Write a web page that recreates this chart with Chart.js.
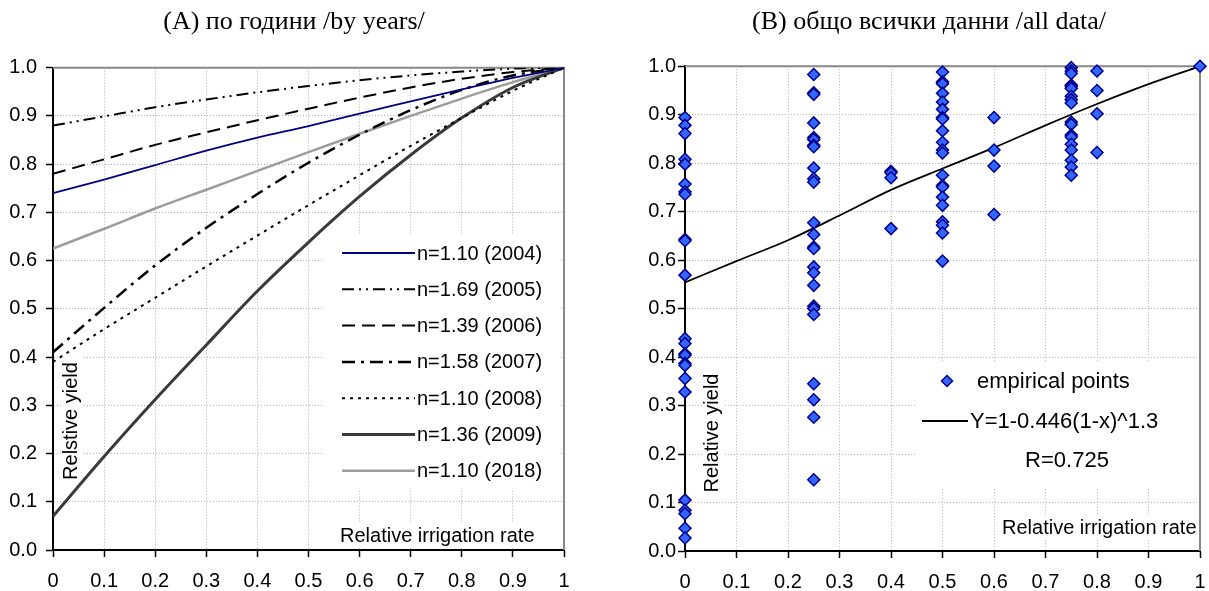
<!DOCTYPE html>
<html>
<head>
<meta charset="utf-8">
<script src="https://cdn.jsdelivr.net/npm/chart.js@4.4.0/dist/chart.umd.min.js"></script>
<style>
  html, body { margin: 0; padding: 0; background: #fff; }
  #wrap { position: relative; width: 1209px; height: 591px; overflow: hidden; }
  .panel { position: absolute; top: 0; height: 591px; }
  #panelA { left: 0; width: 588px; }
  #panelB { left: 632px; width: 594px; }
</style>
</head>
<body>
<div id="wrap">
  <div class="panel" id="panelA"><canvas id="chartA"></canvas></div>
  <div class="panel" id="panelB"><canvas id="chartB"></canvas></div>
</div>
<script>
// tick labels (both panels)
const xTickLabels = ["0", "0.1", "0.2", "0.3", "0.4", "0.5", "0.6", "0.7", "0.8", "0.9", "1"];
const yTickLabels = ["0.0", "0.1", "0.2", "0.3", "0.4", "0.5", "0.6", "0.7", "0.8", "0.9", "1.0"];

// (A) relative yield at every 0.1 of irrigation rate
const rateSteps = [0, 0.1, 0.2, 0.3, 0.4, 0.5, 0.6, 0.7, 0.8, 0.9, 1];
const y2004 = [0.740, 0.768, 0.798, 0.828, 0.855, 0.879, 0.905, 0.930, 0.955, 0.979, 1.000];
const y2005 = [0.880, 0.899, 0.918, 0.934, 0.949, 0.962, 0.974, 0.984, 0.992, 0.998, 1.000];
const y2006 = [0.780, 0.810, 0.840, 0.866, 0.891, 0.915, 0.938, 0.959, 0.977, 0.991, 1.000];
const y2007 = [0.410, 0.502, 0.590, 0.668, 0.738, 0.803, 0.861, 0.912, 0.954, 0.984, 1.000];
const y2008 = [0.390, 0.458, 0.523, 0.588, 0.652, 0.715, 0.777, 0.838, 0.896, 0.952, 1.000];
const y2009 = [0.070, 0.194, 0.312, 0.425, 0.537, 0.638, 0.733, 0.819, 0.896, 0.959, 1.000];
const y2018 = [0.625, 0.666, 0.708, 0.747, 0.786, 0.825, 0.863, 0.900, 0.936, 0.970, 1.000];
const yearLabels = ["n=1.10 (2004)", "n=1.69 (2005)", "n=1.39 (2006)", "n=1.58 (2007)",
                    "n=1.10 (2008)", "n=1.36 (2009)", "n=1.10 (2018)"];

// (B) empirical points, grouped by irrigation rate
const yieldAt000 = [0.894, 0.878, 0.861, 0.808, 0.798, 0.757, 0.741, 0.736, 0.643, 0.640, 0.569,
                    0.438, 0.428, 0.407, 0.404, 0.387, 0.383, 0.356, 0.328, 0.105, 0.084, 0.077, 0.047, 0.027];
const yieldAt025 = [0.983, 0.945, 0.942, 0.883, 0.853, 0.849, 0.837, 0.834, 0.790, 0.768, 0.761, 0.677,
                    0.653, 0.627, 0.624, 0.586, 0.574, 0.548, 0.505, 0.500, 0.488, 0.345, 0.312, 0.276, 0.147];
const yieldAt040 = [0.783, 0.780, 0.770, 0.665];
const yieldAt050 = [0.988, 0.968, 0.964, 0.944, 0.926, 0.911, 0.894, 0.891, 0.867, 0.843, 0.827,
                    0.821, 0.775, 0.754, 0.751, 0.730, 0.713, 0.679, 0.672, 0.656, 0.598];
const yieldAt060 = [0.894, 0.827, 0.794, 0.694];
const yieldAt075 = [0.997, 0.990, 0.985, 0.961, 0.958, 0.954, 0.938, 0.931, 0.924, 0.885, 0.880,
                    0.858, 0.854, 0.839, 0.827, 0.806, 0.792, 0.775];
const yieldAt080 = [0.990, 0.950, 0.902, 0.822];
const yieldAt100 = [1.000];
// fitted curve as drawn
const fitY = [0.554, 0.598, 0.641, 0.692, 0.745, 0.789, 0.832, 0.878, 0.922, 0.963, 1.000];
const fitLabel = "Y=1-0.446(1-x)^1.3";
const fitR = "R=0.725";

const SANS = "'Liberation Sans', Arial, sans-serif";
const SERIF = "'Liberation Serif', 'Times New Roman', serif";

function toPoints(xs, ys) {
  return ys.map((y, i) => ({ x: xs[i], y: y }));
}
function column(x, ys) {
  return ys.map(y => ({ x: x, y: y }));
}

// x/y axes plus an empty right-hand box that keeps the title centred on the canvas
function axes(yWidth, yPad, xHeight, rightGap) {
  const common = {
    type: "linear", min: 0, max: 1,
    grid: { color: "#b0b0b0", lineWidth: 1, tickLength: 7, tickColor: "#000", tickWidth: 1.5 },
    border: { color: "#000", width: 2, dash: [1, 2] }
  };
  return {
    x: Object.assign({}, common, {
      ticks: { stepSize: 0.1, autoSkip: false, maxRotation: 0, padding: 12, color: "#000",
               font: { family: SANS, size: 20 }, callback: (v, i) => xTickLabels[i] },
      afterFit: s => { s.height = xHeight; }
    }),
    y: Object.assign({}, common, {
      ticks: { stepSize: 0.1, autoSkip: false, padding: yPad, color: "#000",
               font: { family: SANS, size: 20 }, callback: (v, i) => yTickLabels[i] },
      afterFit: s => { s.width = yWidth; }
    }),
    gap: {
      type: "linear", position: "right", min: 0, max: 1,
      grid: { display: false, drawTicks: false }, border: { display: false },
      ticks: { display: false },
      afterFit: s => { s.width = rightGap; }
    }
  };
}

function frame(ctx, a) {
  ctx.save();
  ctx.strokeStyle = "#888";
  ctx.lineWidth = 2;
  ctx.beginPath();
  ctx.moveTo(a.left, a.top);
  ctx.lineTo(a.right, a.top);
  ctx.lineTo(a.right, a.bottom);
  ctx.stroke();
  ctx.restore();
}

function vertText(ctx, text, x, y) {
  ctx.save();
  ctx.translate(x, y);
  ctx.rotate(-Math.PI / 2);
  ctx.textAlign = "center";
  ctx.textBaseline = "alphabetic";
  ctx.fillText(text, 0, 0);
  ctx.restore();
}

const legendA = {
  id: "legendA",
  beforeDatasetsDraw(chart) {
    const ctx = chart.ctx;
    ctx.save();
    ctx.fillStyle = "#fff";
    ctx.fillRect(323, 235, 236, 255);
    ctx.fillRect(336, 522, 225, 26);
    ctx.fillRect(61, 357, 21, 128);
    frame(ctx, chart.chartArea);
    ctx.fillStyle = "#000";
    ctx.font = "20px " + SANS;
    ctx.textBaseline = "middle";
    chart.data.datasets.forEach((ds, i) => {
      const y = 253 + i * 36.3;
      ctx.save();
      ctx.strokeStyle = ds.borderColor;
      ctx.lineWidth = ds.borderWidth;
      ctx.setLineDash(ds.borderDash || []);
      ctx.beginPath();
      ctx.moveTo(342, y);
      ctx.lineTo(415, y);
      ctx.stroke();
      ctx.restore();
      ctx.fillText(ds.label, 417, y + 1);
    });
    ctx.textBaseline = "alphabetic";
    ctx.fillText("Relative irrigation rate", 340, 542);
    vertText(ctx, "Relstive yield", 77, 421);
    ctx.restore();
  }
};

// panel B canvas starts at page x 632
const legendB = {
  id: "legendB",
  beforeDatasetsDraw(chart) {
    const ctx = chart.ctx;
    const pts = chart.data.datasets[0];
    const fit = chart.data.datasets[1];
    ctx.save();
    ctx.fillStyle = "#fff";
    ctx.fillRect(283, 363, 283, 125);
    ctx.fillRect(365, 514, 200, 26);
    ctx.fillRect(70, 369, 21, 128);
    frame(ctx, chart.chartArea);
    // marker sample
    const mx = 315, my = 381, r = 5.5;
    ctx.beginPath();
    ctx.moveTo(mx - r, my); ctx.lineTo(mx, my - r); ctx.lineTo(mx + r, my); ctx.lineTo(mx, my + r);
    ctx.closePath();
    ctx.fillStyle = pts.backgroundColor;
    ctx.fill();
    ctx.strokeStyle = pts.borderColor;
    ctx.lineWidth = 1.5;
    ctx.stroke();
    // line sample
    ctx.strokeStyle = fit.borderColor;
    ctx.lineWidth = fit.borderWidth;
    ctx.beginPath();
    ctx.moveTo(290, 421); ctx.lineTo(336, 421);
    ctx.stroke();
    ctx.fillStyle = "#000";
    ctx.font = "22px " + SANS;
    ctx.textBaseline = "middle";
    ctx.fillText(pts.label, 345, 382);
    ctx.fillText(fit.label, 338, 422);
    ctx.textAlign = "center";
    ctx.fillText(fitR, 435, 461);
    ctx.textAlign = "left";
    ctx.textBaseline = "alphabetic";
    ctx.font = "20px " + SANS;
    ctx.fillText("Relative irrigation rate", 370, 534);
    vertText(ctx, "Relative yield", 86, 433);
    ctx.restore();
  }
};

const lineStyle = { pointRadius: 0, fill: false, cubicInterpolationMode: "monotone" };

new Chart(document.getElementById("chartA"), {
  type: "line",
  data: {
    datasets: [
      Object.assign({ label: yearLabels[0], data: toPoints(rateSteps, y2004), borderColor: "#000080", borderWidth: 1.8 }, lineStyle),
      Object.assign({ label: yearLabels[1], data: toPoints(rateSteps, y2005), borderColor: "#000", borderWidth: 2, borderDash: [12, 5, 2, 5, 2, 5] }, lineStyle),
      Object.assign({ label: yearLabels[2], data: toPoints(rateSteps, y2006), borderColor: "#000", borderWidth: 2, borderDash: [13, 7] }, lineStyle),
      Object.assign({ label: yearLabels[3], data: toPoints(rateSteps, y2007), borderColor: "#000", borderWidth: 2.5, borderDash: [13, 6, 3, 6] }, lineStyle),
      Object.assign({ label: yearLabels[4], data: toPoints(rateSteps, y2008), borderColor: "#000", borderWidth: 2, borderDash: [3, 5] }, lineStyle),
      Object.assign({ label: yearLabels[5], data: toPoints(rateSteps, y2009), borderColor: "#3a3a3a", borderWidth: 3 }, lineStyle),
      Object.assign({ label: yearLabels[6], data: toPoints(rateSteps, y2018), borderColor: "#9c9c9c", borderWidth: 2.5 }, lineStyle)
    ]
  },
  options: {
    responsive: true,
    maintainAspectRatio: false,
    animation: false,
    layout: { padding: 0 },
    scales: axes(53, 9, 41, 24),
    plugins: {
      legend: { display: false },
      tooltip: { enabled: false },
      title: {
        display: true, text: "(A) по години /by years/", color: "#000",
        font: { family: SERIF, size: 26, weight: "normal" },
        padding: { top: 7, bottom: 29.5 }
      }
    }
  },
  plugins: [legendA]
});

new Chart(document.getElementById("chartB"), {
  type: "line",
  data: {
    datasets: [
      {
        label: "empirical points",
        data: [].concat(column(0, yieldAt000), column(0.25, yieldAt025), column(0.4, yieldAt040),
                        column(0.5, yieldAt050), column(0.6, yieldAt060), column(0.75, yieldAt075),
                        column(0.8, yieldAt080), column(1, yieldAt100)),
        showLine: false,
        clip: false,
        pointStyle: "rectRot",
        pointRadius: 6,
        backgroundColor: "#3366ff",
        borderColor: "#00008b",
        pointBorderWidth: 1.5,
        order: 0
      },
      Object.assign({ label: fitLabel, data: toPoints(rateSteps, fitY), borderColor: "#000", borderWidth: 1.8, order: 1 }, lineStyle)
    ]
  },
  options: {
    responsive: true,
    maintainAspectRatio: false,
    animation: false,
    layout: { padding: 0 },
    scales: axes(53, 2, 40, 26),
    plugins: {
      legend: { display: false },
      tooltip: { enabled: false },
      title: {
        display: true, text: "(B) общо всички данни /all data/", color: "#000",
        font: { family: SERIF, size: 26, weight: "normal" },
        padding: { top: 7, bottom: 28 }
      }
    }
  },
  plugins: [legendB]
});
</script>
</body>
</html>
